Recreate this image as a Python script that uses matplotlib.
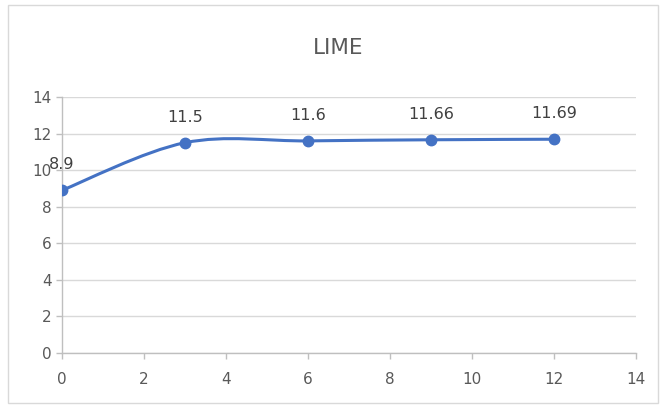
import numpy as np
import matplotlib
matplotlib.use("Agg")
import matplotlib.pyplot as plt
from matplotlib.path import Path
from matplotlib.patches import PathPatch, Rectangle

# values
x_vals = [0, 3, 6, 9, 12]
y_vals = [8.9, 11.5, 11.6, 11.66, 11.69]
labels = ["8.9", "11.5", "11.6", "11.66", "11.69"]
title = "LIME"

blue = "#4472C4"
grey_txt = "#595959"


# Excel style smoothed line: catmull-rom segments turned into cubic beziers
def smooth_path(xs, ys):
    pts = np.column_stack([xs, ys]).astype(float)
    n = len(pts)
    verts = [pts[0]]
    codes = [Path.MOVETO]
    for i in range(n - 1):
        p0 = pts[max(i - 1, 0)]
        p1 = pts[i]
        p2 = pts[i + 1]
        p3 = pts[min(i + 2, n - 1)]
        c1 = p1 + (p2 - p0) / 6.0
        c2 = p2 - (p3 - p1) / 6.0
        verts += [c1, c2, p2]
        codes += [Path.CURVE4] * 3
    return Path(verts, codes)


fig = plt.figure(figsize=(6.67, 4.07), dpi=100)
fig.patches.append(Rectangle((0.012, 0.01), 0.974, 0.978, transform=fig.transFigure,
                             fill=False, edgecolor="#D9D9D9", linewidth=1))

ax = fig.add_axes([0.093, 0.1327, 0.8605, 0.629])
ax.set_xlim(0, 14)
ax.set_ylim(0, 14)
ax.set_xticks(range(0, 15, 2))
ax.set_yticks(range(0, 15, 2))
ax.grid(axis="y", color="#D9D9D9", linewidth=1)
ax.set_axisbelow(True)
for s in ["top", "right"]:
    ax.spines[s].set_visible(False)
for s in ["left", "bottom"]:
    ax.spines[s].set_color("#BFBFBF")
    ax.spines[s].set_linewidth(1)
ax.tick_params(colors="#BFBFBF", labelcolor=grey_txt, labelsize=11, length=4, width=1)
ax.tick_params(axis="x", pad=10)

ax.add_patch(PathPatch(smooth_path(x_vals, y_vals), facecolor="none", edgecolor=blue,
                       linewidth=2.2, capstyle="round", zorder=3))
ax.plot(x_vals, y_vals, linestyle="none", marker="o", markersize=7.5, color=blue, zorder=4)

for xv, yv, lab in zip(x_vals, y_vals, labels):
    ax.annotate(lab, (xv, yv), xytext=(0, 13), textcoords="offset points",
                ha="center", va="bottom", fontsize=11.5, color="#404040")

fig.text(0.507, 0.882, title, ha="center", va="center", fontsize=15.5, color=grey_txt)

fig.savefig("out.png", dpi=100)
